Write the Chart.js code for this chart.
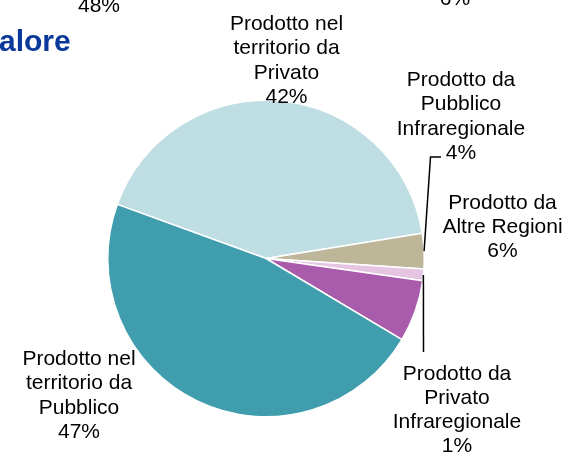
<!DOCTYPE html>
<html>
<head>
<meta charset="utf-8">
<script src="https://cdn.jsdelivr.net/npm/chart.js@4"></script>
<style>
  html, body { margin: 0; padding: 0; background: #fff; }
  #wrap { position: relative; width: 569px; height: 453px; }
</style>
</head>
<body>
<div id="wrap"><canvas id="myChart"></canvas></div>
<script>
// slices in clockwise order, starting from the upper left edge
const categories = [
  "Prodotto nel territorio da Privato",
  "Prodotto da Pubblico Infraregionale",
  "Prodotto da Privato Infraregionale",
  "Prodotto da Altre Regioni",
  "Prodotto nel territorio da Pubblico",
];
const labelLines = [
  ["Prodotto nel", "territorio da", "Privato"],
  ["Prodotto da", "Pubblico", "Infraregionale"],
  ["Prodotto da", "Privato", "Infraregionale"],
  ["Prodotto da", "Altre Regioni"],
  ["Prodotto nel", "territorio da", "Pubblico"],
];
const shares = [41.9, 3.6, 1.2, 6.3, 47.0];
const sliceColors = ["#BEDEE3", "#BDB699", "#E6C5E3", "#A85CAB", "#409DAE"];

// bits of neighbouring charts cut off by the crop
const cutTexts = [
  { text: "48%", x: 99, y: 12, font: "21px 'Liberation Sans', Arial", color: "#000", align: "center" },
  { text: "6%", x: 455, y: 4.5, font: "21px 'Liberation Sans', Arial", color: "#000", align: "center" },
  { text: "alore", x: -1, y: 51, font: "bold 30px 'Liberation Sans', Arial", color: "#08399A", align: "left" },
];

// where each label block sits (first baseline) and its leader line, if any
const labelPos = [
  { x: 286.5, y: 30 },
  { x: 461, y: 86, leader: [[430.5, 157], [441, 157]] },
  { x: 457, y: 379.5, leader: [[423.5, 352]] },
  { x: 502.5, y: 208.5 },
  { x: 79, y: 365 },
];

const pieLabels = {
  id: "pieLabels",
  afterDraw(chart) {
    const { ctx } = chart;
    const meta = chart.getDatasetMeta(0);
    const total = shares.reduce((a, b) => a + b, 0);
    ctx.save();

    // leader lines from the outer edge of the slice
    ctx.strokeStyle = "#000";
    ctx.lineWidth = 1.5;
    labelPos.forEach((p, i) => {
      if (!p.leader) return;
      const arc = meta.data[i].getProps(["x", "y", "startAngle", "endAngle", "outerRadius"], true);
      const mid = (arc.startAngle + arc.endAngle) / 2;
      ctx.beginPath();
      ctx.moveTo(arc.x + Math.cos(mid) * arc.outerRadius, arc.y + Math.sin(mid) * arc.outerRadius);
      p.leader.forEach(([lx, ly]) => ctx.lineTo(lx, ly));
      ctx.stroke();
    });

    ctx.fillStyle = "#000";
    ctx.font = "21px 'Liberation Sans', Arial, sans-serif";
    ctx.textAlign = "center";
    ctx.textBaseline = "alphabetic";
    labelPos.forEach((p, i) => {
      const lines = labelLines[i].concat(Math.round((shares[i] / total) * 100) + "%");
      lines.forEach((t, j) => ctx.fillText(t, p.x, p.y + j * 24.3));
    });

    cutTexts.forEach((c) => {
      ctx.font = c.font;
      ctx.fillStyle = c.color;
      ctx.textAlign = c.align;
      ctx.fillText(c.text, c.x, c.y);
    });
    ctx.restore();
  },
};

new Chart(document.getElementById("myChart"), {
  type: "pie",
  data: {
    labels: categories,
    datasets: [
      {
        data: shares,
        backgroundColor: sliceColors,
        borderColor: "#fff",
        borderWidth: 1.5,
      },
    ],
  },
  options: {
    responsive: true,
    maintainAspectRatio: false,
    animation: false,
    rotation: -70,
    layout: {
      padding: { left: 107, right: 144, top: 99.5, bottom: 35.5 },
    },
    plugins: {
      legend: { display: false },
      tooltip: { enabled: false },
    },
  },
  plugins: [pieLabels],
});
</script>
</body>
</html>
